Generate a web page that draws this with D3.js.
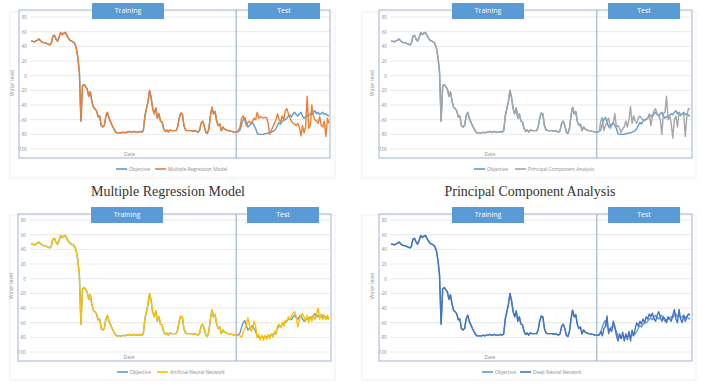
<!DOCTYPE html>
<html><head><meta charset="utf-8">
<script src="https://cdn.jsdelivr.net/npm/d3@7"></script>
<style>body{margin:0;background:#fff}svg{display:block}</style>
</head><body>
<svg id="c" width="702" height="386"></svg>
<script>
const yTicks = [80, 60, 40, 20, 0, -20, -40, -60, -80, -100];
const phaseLabels = ["Training", "Test"];
const modelNames = ["Multiple Regression Model", "Principal Component Analysis", "Artificial Neural Network", "Deep Neural Network"];
const panelTitles = ["Multiple Regression Model", "Principal Component Analysis"];

const training = [47,47,46,47,48,50,48,46,45,45,44,43,42,44,54,55,50,47,52,59,56,58,59,55,51,48,47,46,44,38,25,5,-62,-14,-12,-15,-18,-28,-22,-35,-43,-45,-48,-56,-55,-68,-70,-68,-55,-50,-58,-63,-68,-72,-76,-78,-78,-78,-78,-77,-78,-77,-77,-76,-77,-77,-76,-77,-77,-77,-76,-77,-75,-55,-45,-35,-20,-30,-45,-52,-44,-58,-52,-62,-63,-72,-76,-74,-77,-74,-75,-75,-75,-75,-70,-58,-51,-52,-68,-74,-75,-75,-75,-75,-76,-75,-76,-77,-75,-65,-62,-68,-77,-79,-72,-55,-43,-52,-49,-62,-68,-66,-75,-70,-73,-74,-75,-75,-76,-76,-77,-77];

const objectiveTest = [-77,-76,-74,-66,-60,-57,-64,-70,-68,-66,-64,-68,-72,-79,-80,-80,-80,-80,-79,-79,-78,-78,-77,-76,-75,-72,-68,-64,-66,-62,-61,-60,-58,-55,-54,-56,-52,-50,-53,-55,-52,-50,-55,-58,-56,-55,-54,-52,-53,-50,-48,-52,-50,-53,-52,-50,-53,-52,-54,-55];

const mrmTest = [-77,-74,-70,-58,-55,-60,-68,-64,-62,-65,-62,-58,-60,-50,-58,-56,-57,-58,-57,-57,-65,-80,-75,-70,-65,-60,-52,-60,-63,-55,-60,-48,-45,-52,-58,-62,-65,-66,-68,-65,-70,-82,-68,-78,-70,-28,-72,-68,-40,-55,-60,-62,-65,-56,-68,-70,-62,-83,-58,-65];

const pcaTest = [-77,-76,-62,-57,-75,-68,-62,-58,-72,-68,-65,-52,-70,-68,-72,-78,-72,-70,-62,-70,-60,-42,-65,-55,-62,-65,-58,-55,-58,-60,-60,-59,-58,-52,-68,-55,-48,-45,-52,-55,-60,-80,-52,-50,-28,-60,-55,-65,-85,-60,-55,-70,-50,-55,-52,-52,-83,-55,-45,-45];

const annTest = [-77,-77,-78,-80,-72,-68,-64,-53,-63,-72,-68,-58,-65,-80,-76,-84,-77,-84,-77,-83,-76,-82,-75,-80,-72,-76,-65,-62,-67,-60,-65,-57,-58,-52,-56,-50,-48,-45,-52,-66,-56,-50,-48,-52,-58,-50,-60,-52,-58,-50,-56,-48,-40,-55,-48,-56,-50,-56,-50,-55];

const dnnTest = [-77,-77,-72,-78,-68,-65,-51,-75,-68,-72,-58,-65,-78,-85,-75,-82,-73,-85,-75,-83,-72,-85,-70,-78,-68,-60,-65,-58,-62,-55,-60,-52,-55,-48,-52,-47,-55,-58,-50,-45,-52,-58,-52,-55,-60,-52,-55,-58,-50,-42,-55,-60,-42,-55,-60,-50,-58,-52,-48,-50];

const modelTests = [mrmTest, pcaTest, annTest, dnnTest];
const modelColors = ["#ED7D31", "#A5A5A5", "#FFC000", "#4472C4"];
const objColor = "#5B9BD5";

const svg = d3.select("#c");
const FONT = "Open Sans, Liberation Sans, sans-serif";

const layouts = [
  {ox:10, oy:12, ow:325, oh:166, fx:19, fy:10, fw:311, fh:148, dx0:31, dx1:329, gx0:30, gx1:330, yTop:17, yBot:149, tb:[92,164], xb:[248,320], by:3, legY:169, legX:116, leg2:155, dateY:154},
  {ox:362, oy:12, ow:334, oh:166, fx:379, fy:10, fw:313, fh:148, dx0:391, dx1:690, gx0:390, gx1:692, yTop:17, yBot:149, tb:[452,524], xb:[608,680], by:3, legY:169, legX:474, leg2:515, dateY:154},
  {ox:10, oy:215, ow:325, oh:165, fx:18, fy:214, fw:313, fh:147, dx0:31, dx1:329, gx0:30, gx1:330, yTop:220, yBot:352, tb:[91,163], xb:[247,319], by:207, legY:372, legX:117, leg2:157, dateY:357},
  {ox:362, oy:215, ow:334, oh:165, fx:379, fy:214, fw:313, fh:147, dx0:391, dx1:690, gx0:390, gx1:692, yTop:220, yBot:352, tb:[452,524], xb:[608,680], by:207, legY:372, legX:482, leg2:520, dateY:357}
];

const nTrain = training.length;

layouts.forEach((L, p) => {
  const g = svg.append("g");
  const modelSeries = training.concat(modelTests[p]);
  const objSeries = training.concat(objectiveTest);
  const n = modelSeries.length;
  const x = d3.scaleLinear().domain([0, n - 1]).range([L.dx0, L.dx1]);
  const y = d3.scaleLinear().domain([80, -100]).range([L.yTop, L.yBot]);

  g.append("rect").attr("x", L.ox).attr("y", L.oy).attr("width", L.ow).attr("height", L.oh)
    .attr("fill", "none").attr("stroke", "#ECECEC").attr("stroke-width", 0.8);

  g.selectAll(".grid").data(yTicks).join("line")
    .attr("x1", L.gx0).attr("x2", L.gx1)
    .attr("y1", d => y(d)).attr("y2", d => y(d))
    .attr("stroke", "#E3E3E3").attr("stroke-width", 0.8);

  const ax = d3.axisLeft(y).tickValues(yTicks).tickSize(0).tickPadding(0)
    .tickFormat(d => d < 0 ? "-" + Math.abs(d) : String(d));
  const axG = g.append("g").attr("transform", `translate(${L.fx + 8},0)`).call(ax);
  axG.select(".domain").remove();
  axG.selectAll("text").attr("fill", "#8C8C8C").style("font-size", "4.6px").style("font-family", FONT);

  g.append("rect").attr("x", L.fx).attr("y", L.fy).attr("width", L.fw).attr("height", L.fh)
    .attr("fill", "none").attr("stroke", "#A9BBD3").attr("stroke-width", 1.1);

  const divX = x(nTrain - 0.5);
  g.append("line").attr("x1", divX).attr("x2", divX).attr("y1", L.fy).attr("y2", L.fy + L.fh)
    .attr("stroke", "#8FA7C4").attr("stroke-width", 1);

  const line = d3.line().x((d, i) => x(i)).y(d => y(d));
  g.append("path").datum(objSeries).attr("d", line).attr("fill", "none")
    .attr("stroke", objColor).attr("stroke-width", 1.4).attr("stroke-linejoin", "round");
  g.append("path").datum(modelSeries).attr("d", line).attr("fill", "none")
    .attr("stroke", modelColors[p]).attr("stroke-width", 1.4).attr("stroke-linejoin", "round");

  [L.tb, L.xb].forEach((b, k) => {
    g.append("rect").attr("x", b[0]).attr("y", L.by).attr("width", b[1] - b[0]).attr("height", 16)
      .attr("fill", "#5B9BD5");
    g.append("text").attr("x", (b[0] + b[1]) / 2).attr("y", L.by + 8).attr("dy", "0.35em")
      .attr("text-anchor", "middle").attr("fill", "#fff").style("font-size", "7px")
      .style("font-family", FONT).text(phaseLabels[k]);
  });

  g.append("text").attr("transform", `translate(${L.fx - 7},${(L.yTop + L.yBot) / 2}) rotate(-90)`)
    .attr("text-anchor", "middle").attr("dy", "0.35em").attr("fill", "#8C8C8C")
    .style("font-size", "5px").style("font-family", FONT).text("Water level");
  g.append("text").attr("x", (L.fx + divX) / 2 + 2).attr("y", L.dateY).attr("dy", "0.35em")
    .attr("text-anchor", "middle").attr("fill", "#8C8C8C")
    .style("font-size", "5px").style("font-family", FONT).text("Date");

  const legItems = [{c: objColor, t: "Objective", x: L.legX}, {c: modelColors[p], t: modelNames[p], x: L.leg2}];
  legItems.forEach(it => {
    g.append("line").attr("x1", it.x).attr("x2", it.x + 11).attr("y1", L.legY).attr("y2", L.legY)
      .attr("stroke", it.c).attr("stroke-width", 1.6);
    g.append("text").attr("x", it.x + 13).attr("y", L.legY).attr("dy", "0.35em")
      .attr("fill", "#8C8C8C").style("font-size", "4.8px").style("font-family", FONT).text(it.t);
  });
});

[168, 530].forEach((cx, k) => {
  svg.append("text").attr("x", cx).attr("y", 191).attr("dy", "0.35em").attr("text-anchor", "middle")
    .attr("fill", "#333").style("font-size", "14px").style("font-family", "Liberation Serif, DejaVu Serif, serif")
    .text(panelTitles[k]);
});
</script>
</body></html>
